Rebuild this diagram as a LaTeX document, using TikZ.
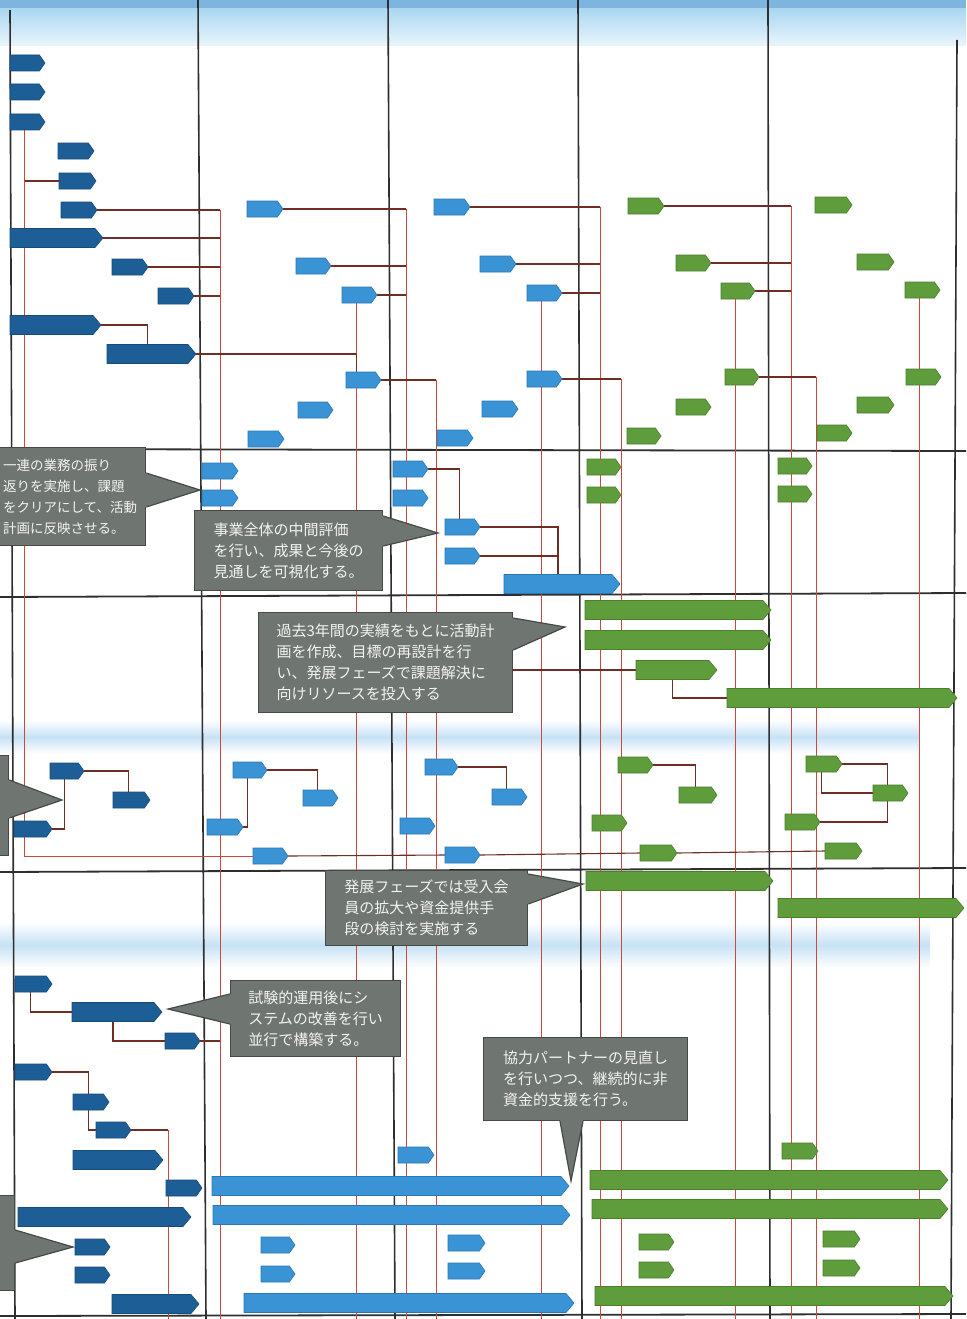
\documentclass[tikz,border=0pt]{standalone}
\usepackage{fontspec}
\newfontfamily\jpfont{Noto Sans CJK JP}
\usetikzlibrary{shapes.symbols,calc}
\pgfdeclarelayer{bgA}
\pgfdeclarelayer{bgB}
\pgfsetlayers{bgA,bgB,main}
\definecolor{dblue}{HTML}{1D5E96}
\definecolor{dblueD}{HTML}{164C7A}
\definecolor{mblue}{HTML}{3A93D4}
\definecolor{mblueD}{HTML}{2B78B3}
\definecolor{grn}{HTML}{5F9C3C}
\definecolor{grnD}{HTML}{4A7F2C}
\definecolor{connc}{HTML}{6E2E24}
\definecolor{redl}{HTML}{D2463A}
\definecolor{colc}{HTML}{2E2E2E}
\definecolor{callbg}{HTML}{6F7671}
\definecolor{callbd}{HTML}{454A47}
\definecolor{calltext}{HTML}{F2F2F2}
\definecolor{hdrA}{HTML}{7DB5DF}
\definecolor{hdrB}{HTML}{A9D6F1}
\definecolor{hdrC}{HTML}{EAF5FC}
\definecolor{bandc}{HTML}{C6E2F5}
\tikzset{
  barbase/.style={shape=signal, signal pointer angle=110, inner sep=0pt, outer sep=0pt,
    minimum height=16pt, anchor=west, line width=0.6pt},
  cA/.style={barbase, fill=dblue, draw=dblueD},
  cB/.style={barbase, fill=mblue, draw=mblueD},
  cG/.style={barbase, fill=grn, draw=grnD},
  wide/.style={minimum height=19pt, signal pointer angle=100},
  cn/.style={draw=connc, line width=1.1pt},
  rl/.style={draw=redl, line width=0.9pt},
  colline/.style={draw=colc, line width=1.6pt},
  sepline/.style={draw=colc, line width=1.8pt},
  callbox/.style={rectangle, fill=callbg, draw=callbd, line width=1.2pt, inner sep=0pt,
    font=\jpfont\fontsize{15}{21}\selectfont, text=calltext, align=left, anchor=north west},
  calltip/.style={fill=callbg},
  calledge/.style={draw=callbd, line width=1.2pt},
}
\newcommand\mkbar[5]{\node[#5, minimum width={#3pt-#2pt}] (#1) at (#2,#4) {};}
\begin{document}
\begin{tikzpicture}[x=1pt,y=-1pt]
\useasboundingbox (0,0) rectangle (966,1319);
\clip (0,0) rectangle (966,1319);
\begin{pgfonlayer}{bgA}
  \fill[white] (0,0) rectangle (966,1319);
  \shade[top color=hdrB, bottom color=hdrC] (0,8) rectangle (966,46);
  \fill[hdrA] (0,0) rectangle (966,8);
  \shade[top color=white, bottom color=white, middle color=bandc] (0,720) rectangle (920,754);
  \shade[top color=white, bottom color=white, middle color=bandc] (0,922) rectangle (930,968);
\end{pgfonlayer}
% ---- bars: column 1 (dark blue)
\mkbar{a1}{10}{45}{63}{cA}
\mkbar{a2}{10}{45}{92}{cA}
\mkbar{a3}{10}{45}{122}{cA}
\mkbar{a4}{58}{94}{151}{cA}
\mkbar{a5}{59}{96}{181}{cA}
\mkbar{a6}{61}{97}{210}{cA}
\mkbar{a7}{10}{103}{238}{cA,wide}
\mkbar{a8}{112}{148}{267}{cA}
\mkbar{a9}{158}{194}{296}{cA}
\mkbar{a10}{10}{101}{325}{cA,wide}
\mkbar{a11}{107}{196}{354}{cA,wide}
\mkbar{a12}{50}{84}{771}{cA}
\mkbar{a13}{113}{150}{800}{cA}
\mkbar{a14}{14}{52}{829}{cA}
\mkbar{a15}{15}{52}{984}{cA}
\mkbar{a16}{72}{162}{1012}{cA,wide}
\mkbar{a17}{165}{200}{1041}{cA}
\mkbar{a18}{15}{52}{1072}{cA}
\mkbar{a19}{73}{109}{1102}{cA}
\mkbar{a20}{96}{131}{1130}{cA}
\mkbar{a21}{73}{163}{1160}{cA,wide}
\mkbar{a22}{166}{202}{1188}{cA}
\mkbar{a23}{18}{191}{1217}{cA,wide}
\mkbar{a24}{75}{110}{1247}{cA}
\mkbar{a25}{75}{110}{1275}{cA}
\mkbar{a26}{112}{199}{1304}{cA,wide}
% ---- column 2 (blue)
\mkbar{b1}{247}{283}{209}{cB}
\mkbar{b2}{296}{331}{266}{cB}
\mkbar{b3}{342}{377}{295}{cB}
\mkbar{b4}{346}{381}{380}{cB}
\mkbar{b5}{298}{333}{410}{cB}
\mkbar{b6}{248}{284}{439}{cB}
\mkbar{b7}{202}{238}{471}{cB}
\mkbar{b8}{202}{238}{498}{cB}
\mkbar{b9}{233}{267}{770}{cB}
\mkbar{b10}{303}{338}{798}{cB}
\mkbar{b11}{207}{243}{827}{cB}
\mkbar{b12}{253}{288}{856}{cB}
\mkbar{b13}{212}{569}{1186}{cB,wide}
\mkbar{b14}{213}{570}{1215}{cB,wide}
\mkbar{b15}{261}{295}{1245}{cB}
\mkbar{b16}{261}{295}{1274}{cB}
\mkbar{b17}{244}{574}{1303}{cB,wide}
% ---- column 3 (blue)
\mkbar{c1}{434}{470}{207}{cB}
\mkbar{c2}{480}{516}{264}{cB}
\mkbar{c3}{527}{562}{293}{cB}
\mkbar{c4}{527}{562}{379}{cB}
\mkbar{c5}{482}{518}{409}{cB}
\mkbar{c6}{437}{473}{438}{cB}
\mkbar{c7}{393}{428}{469}{cB}
\mkbar{c8}{393}{428}{498}{cB}
\mkbar{c9}{445}{480}{527}{cB}
\mkbar{c10}{445}{480}{556}{cB}
\mkbar{c11}{504}{620}{584}{cB,wide}
\mkbar{c12}{425}{458}{767}{cB}
\mkbar{c13}{492}{527}{797}{cB}
\mkbar{c14}{400}{435}{826}{cB}
\mkbar{c15}{445}{480}{855}{cB}
\mkbar{c16}{398}{434}{1155}{cB}
\mkbar{c17}{448}{485}{1243}{cB}
\mkbar{c18}{448}{485}{1271}{cB}
% ---- column 4 (green)
\mkbar{d1}{628}{664}{206}{cG}
\mkbar{d2}{676}{711}{263}{cG}
\mkbar{d3}{721}{755}{291}{cG}
\mkbar{d4}{725}{759}{377}{cG}
\mkbar{d5}{676}{711}{407}{cG}
\mkbar{d6}{627}{661}{436}{cG}
\mkbar{d7}{587}{621}{467}{cG}
\mkbar{d8}{587}{621}{495}{cG}
\mkbar{d9}{585}{771}{610}{cG,wide}
\mkbar{d10}{585}{771}{640}{cG,wide}
\mkbar{d11}{636}{717}{670}{cG,wide}
\mkbar{d12}{727}{957}{698}{cG,wide}
\mkbar{d13}{618}{653}{765}{cG}
\mkbar{d14}{679}{717}{795}{cG}
\mkbar{d15}{592}{627}{823}{cG}
\mkbar{d16}{640}{677}{853}{cG}
\mkbar{d17}{586}{773}{881}{cG,wide}
\mkbar{d18}{590}{948}{1180}{cG,wide}
\mkbar{d19}{592}{948}{1209}{cG,wide}
\mkbar{d20}{595}{953}{1296}{cG,wide}
\mkbar{d21}{639}{674}{1242}{cG}
\mkbar{d22}{639}{674}{1270}{cG}
% ---- column 5 (green)
\mkbar{e1}{815}{852}{205}{cG}
\mkbar{e2}{857}{894}{262}{cG}
\mkbar{e3}{905}{940}{290}{cG}
\mkbar{e4}{906}{941}{377}{cG}
\mkbar{e5}{857}{894}{405}{cG}
\mkbar{e6}{817}{852}{433}{cG}
\mkbar{e7}{778}{812}{466}{cG}
\mkbar{e8}{778}{812}{494}{cG}
\mkbar{e9}{806}{842}{764}{cG}
\mkbar{e10}{873}{908}{793}{cG}
\mkbar{e11}{785}{820}{822}{cG}
\mkbar{e12}{825}{862}{851}{cG}
\mkbar{e13}{778}{964}{908}{cG,wide}
\mkbar{e14}{823}{860}{1239}{cG}
\mkbar{e15}{823}{860}{1268}{cG}
\mkbar{e16}{782}{818}{1151}{cG}
% ---- callouts
\node[callbox, minimum width=151pt, minimum height=98pt, font=\jpfont\fontsize{13.5}{21}\selectfont] (k1) at (-6,447)
  {一連の業務の振り\\返りを実施し、課題\\をクリアにして、活動\\計画に反映させる。};
\node[callbox, minimum width=188pt, minimum height=80pt] (k2) at (194,510)
  {事業全体の中間評価\\を行い、成果と今後の\\見通しを可視化する。};
\node[callbox, minimum width=254pt, minimum height=100pt] (k3) at (258,612)
  {過去3年間の実績をもとに活動計\\画を作成、目標の再設計を行\\い、発展フェーズで課題解決に\\向けリソースを投入する};
\node[callbox, minimum width=202pt, minimum height=75pt] (k4) at (325,870)
  {発展フェーズでは受入会\\員の拡大や資金提供手\\段の検討を実施する};
\node[callbox, minimum width=170pt, minimum height=76pt] (k5) at (230,980)
  {試験的運用後にシ\\ステムの改善を行い\\並行で構築する。};
\node[callbox, minimum width=204pt, minimum height=83pt] (k6) at (483,1037)
  {協力パートナーの見直し\\を行いつつ、継続的に非\\資金的支援を行う。};
\node[callbox, minimum width=38pt, minimum height=100pt] (k7) at (-30,755) {};
\node[callbox, minimum width=44pt, minimum height=95pt] (k8) at (-30,1195) {};
\coordinate (t1) at (200,490);
\coordinate (t2) at (438,533);
\coordinate (t3) at (565,627);
\coordinate (t4) at (583,884);
\coordinate (t5) at (168,1009);
\coordinate (t6) at (571,1181);
\coordinate (t7) at (62,800);
\coordinate (t8) at (73,1247);
\fill[calltip] ($(k1.north east)+(-1,26)$) -- (t1) -- ($(k1.north east)+(-1,60)$) -- cycle;
\draw[calledge] ($(k1.north east)+(0,26)$) -- (t1) -- ($(k1.north east)+(0,60)$);
\fill[calltip] ($(k2.north east)+(-1,6)$) -- (t2) -- ($(k2.north east)+(-1,36)$) -- cycle;
\draw[calledge] ($(k2.north east)+(0,6)$) -- (t2) -- ($(k2.north east)+(0,36)$);
\fill[calltip] ($(k3.north east)+(-1,6)$) -- (t3) -- ($(k3.north east)+(-1,38)$) -- cycle;
\draw[calledge] ($(k3.north east)+(0,6)$) -- (t3) -- ($(k3.north east)+(0,38)$);
\fill[calltip] ($(k4.north east)+(-1,4)$) -- (t4) -- ($(k4.north east)+(-1,34)$) -- cycle;
\draw[calledge] ($(k4.north east)+(0,4)$) -- (t4) -- ($(k4.north east)+(0,34)$);
\fill[calltip] ($(k5.north west)+(1,14)$) -- (t5) -- ($(k5.north west)+(1,44)$) -- cycle;
\draw[calledge] ($(k5.north west)+(0,14)$) -- (t5) -- ($(k5.north west)+(0,44)$);
\fill[calltip] ($(k6.south west)+(77,-1)$) -- (t6) -- ($(k6.south west)+(100,-1)$) -- cycle;
\draw[calledge] ($(k6.south west)+(77,0)$) -- (t6) -- ($(k6.south west)+(100,0)$);
\fill[calltip] ($(k7.north east)+(-1,25)$) -- (t7) -- ($(k7.north east)+(-1,63)$) -- cycle;
\draw[calledge] ($(k7.north east)+(0,25)$) -- (t7) -- ($(k7.north east)+(0,63)$);
\fill[calltip] ($(k8.north east)+(-1,35)$) -- (t8) -- ($(k8.north east)+(-1,68)$) -- cycle;
\draw[calledge] ($(k8.north east)+(0,35)$) -- (t8) -- ($(k8.north east)+(0,68)$);
% ---- lines and connectors (under the bars)
\begin{pgfonlayer}{bgB}
  \draw[colline] (10,10) -- (15,1319);
  \draw[colline] (198,0) -- (206,1319);
  \draw[colline] (388,0) -- (395,1319);
  \draw[colline] (578,0) -- (582,1319);
  \draw[colline] (768,0) -- (770,1319);
  \draw[colline] (957,40) -- (951,1319);
  \draw[sepline] (0,449) -- (966,451);
  \draw[sepline] (0,597) -- (966,593);
  \draw[sepline] (0,872) -- (966,868);
  \draw[sepline] (0,1316) -- (966,1314);
  \coordinate (bot) at (0,1319);
  \coordinate (v168) at (168,0);
  \coordinate (v220) at (220,0);
  \coordinate (v406) at (406,0);
  \coordinate (v436) at (436,0);
  \coordinate (v600) at (600,0);
  \coordinate (v621) at (621,0);
  \coordinate (v791) at (791,0);
  \coordinate (v816) at (816,0);
  % long red verticals
  \draw[rl] (a3.south) |- (b12.west);
  \draw[rl] (a6.east) -| (v220 |- bot);
  \draw[rl] (b3.south) -- (b3.south |- bot);
  \draw[rl] (b1.east) -| (v406 |- bot);
  \draw[rl] (b4.east) -| (v436 |- bot);
  \draw[rl] (c1.east) -| (v600 |- bot);
  \draw[rl] (c3.south) -- (c3.south |- bot);
  \draw[rl] (c4.east) -| (v621 |- bot);
  \draw[rl] (d1.east) -| (v791 |- bot);
  \draw[rl] (d3.south) -- (d3.south |- bot);
  \draw[rl] (d4.east) -| (v816 |- bot);
  \draw[rl] (e3.south) -- (e3.south |- bot);
  \draw[rl] (a20.east) -| (v168 |- bot);
  % darker horizontal connectors
  \draw[cn] (a3.south |- a5.west) -- (a5.west);
  \draw[cn] (a6.east) -- (a6.east -| v220);
  \draw[cn] (a7.east) -- (a7.east -| v220);
  \draw[cn] (a8.east) -- (a8.east -| v220);
  \draw[cn] (a9.east) -- (a9.east -| v220);
  \draw[cn] (a10.east) -| (a11.north);
  \draw[cn] (a11.east) -| (b3.south |- b4.north);
  \draw[cn] (b1.east) -- (b1.east -| v406);
  \draw[cn] (b2.east) -- (b2.east -| v406);
  \draw[cn] (b3.east) -- (b3.east -| v406);
  \draw[cn] (b4.east) -- (b4.east -| v436);
  \draw[cn] (c1.east) -- (c1.east -| v600);
  \draw[cn] (c2.east) -- (c2.east -| v600);
  \draw[cn] (c3.east) -- (c3.east -| v600);
  \draw[cn] (c4.east) -- (c4.east -| v621);
  \draw[cn] (d1.east) -- (d1.east -| v791);
  \draw[cn] (d2.east) -- (d2.east -| v791);
  \draw[cn] (d3.east) -- (d3.east -| v791);
  \draw[cn] (d4.east) -- (d4.east -| v816);
  \draw[cn] (c7.east) -| (c9.north);
  \draw[cn] (c9.east) -| (c11.north);
  \draw[cn] (c10.east) -- (c10.east -| c11.north);
  \draw[cn] (d11.south) |- (d12.west);
  \draw[cn] (k3.east |- d11.west) -- (d11.west);
  \draw[cn] (a12.east) -| (a13.north);
  \draw[cn] (a12.south) |- (a14.east);
  \draw[cn] (b9.east) -| (b10.north);
  \draw[cn] (b9.south) |- (b11.east);
  \draw[cn] (b12.east) -- (c15.west);
  \draw[cn] (c12.east) -| (c13.north);
  \draw[cn] (c15.east) -- (d16.west);
  \draw[cn] (d13.east) -| (d14.north);
  \draw[cn] (d16.east) -- (e12.west);
  \draw[cn] (e9.east) -| (e10.north);
  \draw[cn] (e9.south) |- (e10.west);
  \draw[cn] (e11.east) -| (e10.south);
  \draw[cn] (a15.south) |- (a16.west);
  \draw[cn] (a16.south) |- (a17.west);
  \draw[cn] (a17.east) -- (a17.east -| v220);
  \draw[cn] (a18.east) -| (a19.north);
  \draw[cn] (a19.south) |- (a20.west);
  \draw[cn] (a20.east) -- (a20.east -| v168);
\end{pgfonlayer}
\end{tikzpicture}
\end{document}
